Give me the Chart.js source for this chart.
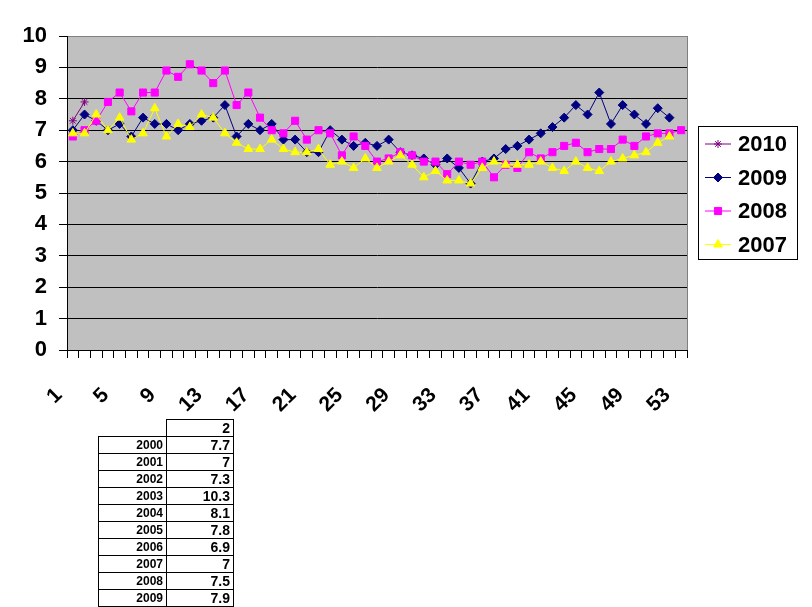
<!DOCTYPE html>
<html>
<head>
<meta charset="utf-8">
<script src="https://cdn.jsdelivr.net/npm/chart.js@4.4.1/dist/chart.umd.min.js"></script>
<style>
    body { margin: 0; background: #fff; }
    #wrap { position: relative; width: 812px; height: 607px; overflow: hidden; }
    #salesChart { position: absolute; left: 0; top: 0; }
    #sheet {
        position: absolute; left: 98px; top: 419px;
        border-collapse: collapse;
        font-family: Arial, 'Liberation Sans', sans-serif;
        font-weight: bold; color: #000;
    }
    #sheet td { height: 16px; padding: 0 3px 0 0; text-align: right; border: 1px solid #000; line-height: 16px; }
    #sheet td.yr { width: 64px; font-size: 12px; }
    #sheet td.val { width: 63px; font-size: 14px; }
    #sheet td.blank { border: none; }
</style>
</head>
<body>
<div id="wrap">
    <canvas id="salesChart" width="812" height="607"></canvas>
    <table id="sheet"></table>
</div>
<script>
// week numbers along the x axis
const weeks = [];
for (let i = 1; i <= 53; i++) weeks.push(String(i));

const y2010 = [7.3, 7.9];
const y2009 = [7.0, 7.5, 7.3, 7.0, 7.2, 6.8, 7.4, 7.2, 7.2, 7.0, 7.2, 7.3, 7.4, 7.8, 6.8, 7.2, 7.0, 7.2,
    6.7, 6.7, 6.3, 6.3, 7.0, 6.7, 6.5, 6.6, 6.5, 6.7, 6.3, 6.2, 6.1, 5.9, 6.1, 5.8, 5.3, 6.0, 6.1, 6.4,
    6.5, 6.7, 6.9, 7.1, 7.4, 7.8, 7.5, 8.2, 7.2, 7.8, 7.5, 7.2, 7.7, 7.4];
const y2008 = [6.8, 7.0, 7.3, 7.9, 8.2, 7.6, 8.2, 8.2, 8.9, 8.7, 9.1, 8.9, 8.5, 8.9, 7.8, 8.2, 7.4, 7.0,
    6.9, 7.3, 6.7, 7.0, 6.9, 6.2, 6.8, 6.5, 6.0, 6.1, 6.3, 6.2, 6.0, 6.0, 5.6, 6.0, 5.9, 6.0, 5.5, 5.9,
    5.8, 6.3, 6.1, 6.3, 6.5, 6.6, 6.3, 6.4, 6.4, 6.7, 6.5, 6.8, 6.9, 6.9, 7.0];
const y2007 = [6.9, 6.9, 7.5, 7.0, 7.4, 6.7, 6.9, 7.7, 6.8, 7.2, 7.1, 7.5, 7.4, 6.9, 6.6, 6.4, 6.4, 6.7,
    6.4, 6.3, 6.3, 6.4, 5.9, 6.0, 5.8, 6.1, 5.8, 6.0, 6.2, 5.9, 5.5, 5.7, 5.4, 5.4, 5.3, 5.8, 6.0, 5.9,
    5.9, 5.9, 6.0, 5.8, 5.7, 6.0, 5.8, 5.7, 6.0, 6.1, 6.2, 6.3, 6.6, 6.8];

const yTicks = [0, 1, 2, 3, 4, 5, 6, 7, 8, 9, 10];

// spreadsheet cells under the chart
const sheetHeader = '2';
const sheetYears = ['2000', '2001', '2002', '2003', '2004', '2005', '2006', '2007', '2008', '2009', '2010'];
const sheetValues = ['7.7', '7', '7.3', '10.3', '8.1', '7.8', '6.9', '7', '7.5', '7.9', ''];

const FONT = "Arial, 'Liberation Sans', sans-serif";

const table = document.getElementById('sheet');
let html = '<tr><td class="yr blank"></td><td class="val">' + sheetHeader + '</td></tr>';
sheetYears.forEach(function (yr, i) {
    html += '<tr><td class="yr">' + yr + '</td><td class="val">' + sheetValues[i] + '</td></tr>';
});
table.innerHTML = html;

const series = [
    { label: '2010', data: y2010, color: '#800080', style: 'star', radius: 4, order: 3 },
    { label: '2009', data: y2009, color: '#000080', style: 'rectRot', radius: 4.5, order: 2 },
    { label: '2008', data: y2008, color: '#FF00FF', style: 'rect', radius: 5, order: 1 },
    { label: '2007', data: y2007, color: '#FFFF00', style: 'triangle', radius: 5, order: 0 }
];

const plotBackground = {
    id: 'plotBackground',
    beforeDraw(chart) {
        const a = chart.chartArea;
        const c = chart.ctx;
        c.save();
        c.fillStyle = '#C0C0C0';
        c.fillRect(a.left, a.top, a.right - a.left, a.bottom - a.top);
        c.restore();
    },
    afterDatasetsDraw(chart) {
        const a = chart.chartArea;
        const c = chart.ctx;
        c.save();
        c.strokeStyle = '#808080';
        c.lineWidth = 1;
        c.beginPath();
        c.moveTo(Math.round(a.right) + 0.5, a.top);
        c.lineTo(Math.round(a.right) + 0.5, a.bottom);
        c.stroke();
        c.restore();
    }
};

const boxLegend = {
    id: 'boxLegend',
    afterDraw(chart) {
        const c = chart.ctx;
        c.save();
        c.strokeStyle = '#000';
        c.lineWidth = 1;
        c.strokeRect(698.5, 126.5, 99, 133);
        series.forEach(function (s, i) {
            const y = 144 + i * 33.5;
            c.strokeStyle = s.color;
            c.fillStyle = s.color;
            c.lineWidth = 1;
            c.beginPath();
            c.moveTo(705, y);
            c.lineTo(731, y);
            c.stroke();
            Chart.helpers.drawPoint(c, { pointStyle: s.style, radius: s.radius, borderWidth: 1, rotation: 0 }, 718, y);
            c.fillStyle = '#000';
            c.font = 'bold 22px ' + FONT;
            c.textBaseline = 'middle';
            c.textAlign = 'left';
            c.fillText(s.label, 738, y + 1);
        });
        c.restore();
    }
};

const ctx = document.getElementById('salesChart').getContext('2d');

const salesChart = new Chart(ctx, {
    type: 'line',
    data: {
        labels: weeks,
        datasets: series.map(function (s) {
            return {
                label: s.label,
                data: s.data,
                order: s.order,
                borderColor: s.color,
                backgroundColor: s.color,
                borderWidth: 1,
                tension: 0,
                pointStyle: s.style,
                pointRadius: s.radius,
                pointBorderWidth: 1,
                pointBackgroundColor: s.color,
                pointBorderColor: s.color,
                fill: false
            };
        })
    },
    options: {
        responsive: false,
        animation: false,
        layout: {
            padding: { top: 36, right: 125, left: 0, bottom: 0 }
        },
        scales: {
            x: {
                type: 'category',
                offset: true,
                grid: {
                    offset: true,
                    drawOnChartArea: false,
                    color: '#000',
                    tickLength: 8
                },
                border: { color: '#000', width: 1 },
                ticks: {
                    autoSkip: false,
                    minRotation: 45,
                    maxRotation: 45,
                    color: '#000',
                    padding: 25,
                    labelOffset: -14,
                    font: { family: FONT, size: 21, weight: 'bold' },
                    callback: function (value, index) {
                        return index % 4 === 0 ? this.getLabelForValue(value) : '';
                    }
                },
                afterFit: function (scale) {
                    scale.height = 257;
                }
            },
            y: {
                min: yTicks[0],
                max: yTicks[yTicks.length - 1],
                afterBuildTicks: function (scale) {
                    scale.ticks = yTicks.map(function (v) { return { value: v }; });
                },
                grid: {
                    color: function (context) {
                        if (context.tick && context.tick.value === 10) {
                            return '#808080';
                        }
                        return '#000';
                    },
                    tickColor: '#000',
                    tickLength: 8
                },
                border: { color: '#000', width: 1 },
                ticks: {
                    color: '#000',
                    padding: 12,
                    font: { family: FONT, size: 22, weight: 'bold' }
                },
                afterFit: function (scale) {
                    scale.width = 67;
                }
            }
        },
        plugins: {
            legend: { display: false },
            tooltip: { enabled: false }
        }
    },
    plugins: [plotBackground, boxLegend]
});
</script>
</body>
</html>
